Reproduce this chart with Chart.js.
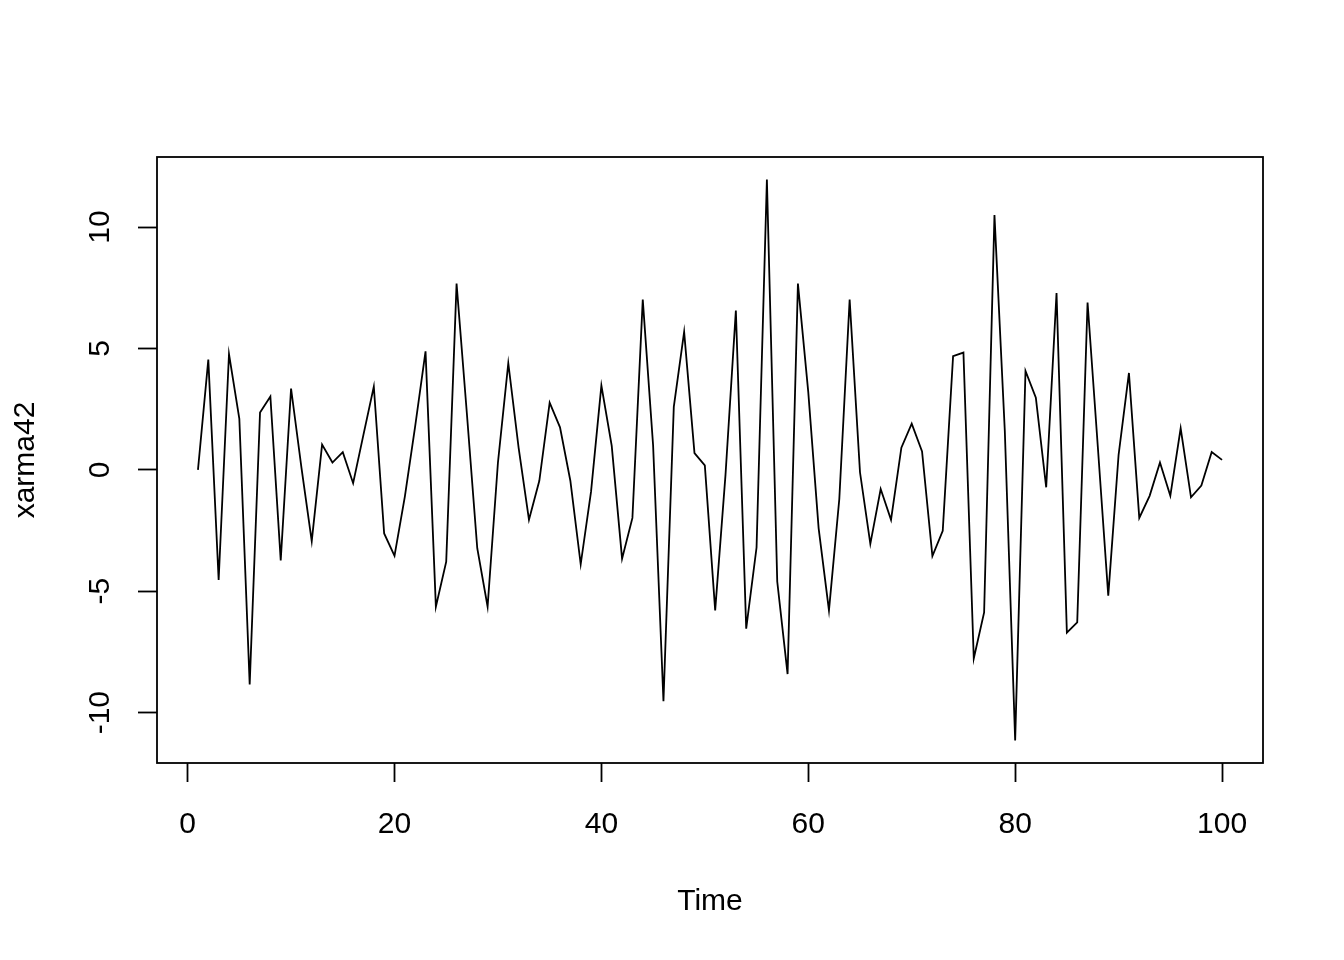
<!DOCTYPE html>
<html>
<head>
<meta charset="utf-8">
<script src="https://cdn.jsdelivr.net/npm/chart.js@4"></script>
<style>
  html, body { margin: 0; padding: 0; background: #fff; }
  #c { display: block; }
</style>
</head>
<body>
<canvas id="c" width="1344" height="960"></canvas>
<script>
const time = [1,2,3,4,5,6,7,8,9,10,11,12,13,14,15,16,17,18,19,20,
  21,22,23,24,25,26,27,28,29,30,31,32,33,34,35,36,37,38,39,40,
  41,42,43,44,45,46,47,48,49,50,51,52,53,54,55,56,57,58,59,60,
  61,62,63,64,65,66,67,68,69,70,71,72,73,74,75,76,77,78,79,80,
  81,82,83,84,85,86,87,88,89,90,91,92,93,94,95,96,97,98,99,100];

const xarma42 = [
  0.0, 4.54, -4.54, 4.77, 2.10, -8.84, 2.36, 3.02, -3.73, 3.35,
  0.1, -2.94, 1.04, 0.30, 0.73, -0.55, 1.45, 3.43, -2.62, -3.54,
  -1.1, 1.8, 4.88, -5.64, -3.78, 7.67, 2.3, -3.23, -5.64, 0.3,
  4.39, 0.9, -2.06, -0.45, 2.77, 1.75, -0.45, -3.89, -0.9, 3.47,
  0.99, -3.66, -1.98, 7.01, 1.0, -9.53, 2.59, 5.68, 0.69, 0.18,
  -5.79, -0.2, 6.56, -6.54, -3.20, 11.96, -4.6, -8.41, 7.67, 3.2,
  -2.4, -5.79, -1.2, 7.01, -0.1, -3.05, -0.79, -2.06, 0.91, 1.90,
  0.76, -3.55, -2.51, 4.68, 4.83, -7.77, -5.87, 10.49, 1.6, -11.15,
  4.07, 2.97, -0.72, 7.28, -6.71, -6.28, 6.89, 0.9, -5.18, 0.62,
  3.99, -1.98, -1.07, 0.30, -1.07, 1.71, -1.13, -0.65, 0.73, 0.41
];

const xTicks = [0, 20, 40, 60, 80, 100];
const yTicks = [-10, -5, 0, 5, 10];

const xLabel = "Time";
const yLabel = "xarma42";

// R-style 4% axis extension
function extend(arr) {
  const lo = Math.min(...arr), hi = Math.max(...arr);
  const pad = (hi - lo) * 0.04;
  return [lo - pad, hi + pad];
}
const [xMin, xMax] = extend(time);
const [yMin, yMax] = extend(xarma42);

const FONT = "Arial, 'Liberation Sans', Helvetica, sans-serif";
Chart.defaults.font.family = FONT;
Chart.defaults.color = '#000';

const boxPlugin = {
  id: 'box',
  afterDraw(chart) {
    const { ctx, chartArea: a } = chart;
    ctx.save();
    ctx.strokeStyle = '#000';
    ctx.lineWidth = 1.8;
    ctx.strokeRect(a.left, a.top, a.right - a.left, a.bottom - a.top);
    ctx.restore();
  }
};

new Chart(document.getElementById('c'), {
  type: 'line',
  data: {
    datasets: [{
      data: time.map((t, i) => ({ x: t, y: xarma42[i] })),
      borderColor: '#000',
      borderWidth: 1.8,
      pointRadius: 0,
      tension: 0,
      fill: false
    }]
  },
  options: {
    responsive: false,
    animation: false,
    layout: { padding: { top: 157, right: 81, left: 0, bottom: 0 } },
    plugins: { legend: { display: false }, tooltip: { enabled: false } },
    scales: {
      x: {
        type: 'linear',
        min: xMin, max: xMax,
        afterBuildTicks: s => { s.ticks = xTicks.map(v => ({ value: v })); },
        afterFit: s => { s.height = 197; },
        ticks: {
          font: { size: 30 },
          padding: 25,
          maxRotation: 0, minRotation: 0,
          callback: v => String(v)
        },
        grid: {
          display: true, drawOnChartArea: false, drawTicks: true,
          tickLength: 19, tickWidth: 1.8, tickColor: '#000'
        },
        border: { display: false },
        title: {
          display: true, text: xLabel,
          font: { size: 30 },
          padding: { top: 0, bottom: 40 }
        }
      },
      y: {
        type: 'linear',
        min: yMin, max: yMax,
        afterBuildTicks: s => { s.ticks = yTicks.map(v => ({ value: v })); },
        afterFit: s => { s.width = 157; },
        ticks: {
          font: { size: 30 },
          padding: 16,
          minRotation: 90, maxRotation: 90,
          crossAlign: 'center',
          callback: v => String(v)
        },
        grid: {
          display: true, drawOnChartArea: false, drawTicks: true,
          tickLength: 19, tickWidth: 1.8, tickColor: '#000'
        },
        border: { display: false },
        title: {
          display: true, text: yLabel,
          font: { size: 30 },
          padding: { top: 8, bottom: 0 }
        }
      }
    }
  },
  plugins: [boxPlugin]
});
</script>
</body>
</html>
